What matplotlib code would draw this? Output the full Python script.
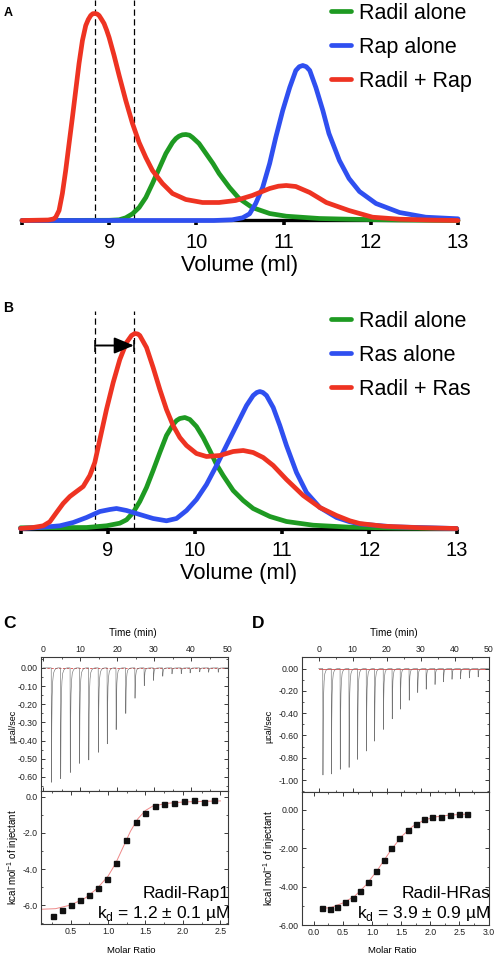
import matplotlib
matplotlib.use('Agg')
import matplotlib.pyplot as plt
from matplotlib.ticker import MultipleLocator

plt.rcParams['font.family'] = ['Liberation Sans', 'DejaVu Sans']
plt.rcParams['axes.unicode_minus'] = False
plt.rcParams['mathtext.fontset'] = 'custom'
plt.rcParams['mathtext.rm'] = 'Liberation Sans'

W, H = 495, 955
fig = plt.figure(figsize=(W / 100, H / 100), dpi=100)


def fx(x):
    return x / W


def fy(y):
    return 1 - y / H


def rect(l, t, r, b):
    return [l / W, 1 - b / H, (r - l) / W, (b - t) / H]


GREEN = '#1e9a22'
BLUE = '#2f4ff0'
RED = '#ee3322'

# ---------------- Panel A data (absorbance, a.u.) ----------------
a_green_x = [8.0, 9.0, 9.114, 9.19, 9.267, 9.343, 9.42, 9.496, 9.573, 9.65, 9.726, 9.765, 9.80,
             9.84, 9.879, 9.92, 9.956, 10.03, 10.11, 10.19, 10.26, 10.38, 10.49, 10.64, 10.84,
             11.03, 11.41, 11.75, 12.3, 13.0]
a_green_y = [0, 0.2, 0.7, 2.7, 6.7, 13, 23, 37, 52, 67, 78, 82, 84.3, 85.7, 86, 85.3, 83, 77,
             67, 57, 47, 33, 22, 13, 7, 4.3, 2, 1.3, 0.5, 0]
a_blue_x = [8.0, 10.2, 10.41, 10.53, 10.61, 10.68, 10.76, 10.84, 10.91, 10.99, 11.07, 11.14,
            11.18, 11.22, 11.26, 11.30, 11.37, 11.45, 11.52, 11.64, 11.75, 11.87, 12.06, 12.33,
            12.63, 13.0]
a_blue_y = [0, 0, 0.7, 2.7, 6.7, 17, 33, 57, 83, 110, 133, 150, 153.8, 155, 153.8, 150, 133,
            110, 87, 60, 42, 29, 17, 8, 3.3, 1.7]
a_red_x = [8.0, 8.30, 8.36, 8.387, 8.425, 8.463, 8.501, 8.54, 8.578, 8.616, 8.654, 8.693,
           8.731, 8.76, 8.788, 8.812, 8.838, 8.862, 8.884, 8.91, 8.941, 8.97, 8.999, 9.056,
           9.114, 9.19, 9.267, 9.343, 9.42, 9.496, 9.611, 9.726, 9.879, 10.07, 10.26, 10.45,
           10.64, 10.84, 10.94, 11.03, 11.14, 11.30, 11.49, 11.75, 12.02, 12.33, 12.7, 13.0]
a_red_y = [0, 0.5, 1.5, 3.3, 10, 27, 50, 77, 103, 130, 157, 180, 195, 201, 205, 206.8, 207,
           206.5, 205, 201.5, 197, 190.5, 183, 165, 145, 120, 97, 78, 63, 50, 37, 27, 21, 18,
           18, 20, 25, 32, 34.3, 35, 34, 28, 18, 10, 3.3, 1.3, 0.4, 0]
a_dashes = [8.835, 9.28]
a_labels = ['Radil alone', 'Rap alone', 'Radil + Rap']

# ---------------- Panel B data ----------------
b_green_x = [8.0, 8.757, 8.986, 9.139, 9.216, 9.292, 9.368, 9.445, 9.521, 9.598, 9.674, 9.75,
             9.79, 9.827, 9.885, 9.942, 10.018, 10.095, 10.171, 10.248, 10.324, 10.439, 10.554,
             10.668, 10.86, 11.05, 11.356, 11.777, 12.3, 13.0]
b_green_y = [0.7, 1, 2.7, 5.3, 8.7, 16, 27, 41, 58, 76, 93, 104, 108, 110, 111, 109, 102, 91,
             78, 64, 53, 38, 28, 20, 12, 7, 3.3, 1.3, 0.5, 0]
b_blue_x = [8.0, 8.222, 8.451, 8.604, 8.757, 8.91, 9.024, 9.101, 9.216, 9.368, 9.521, 9.674,
            9.789, 9.904, 10.018, 10.133, 10.248, 10.362, 10.477, 10.592, 10.668, 10.71, 10.745,
            10.78, 10.821, 10.898, 10.974, 11.05, 11.165, 11.28, 11.433, 11.624, 11.777, 11.89,
            12.27, 13.0]
b_blue_y = [0, 1, 2.7, 6, 11, 17, 19, 20, 18, 14, 10, 7.7, 10, 18, 29, 44, 63, 83, 103, 123,
            133, 136, 137, 136, 133, 121, 103, 83, 56, 36, 21, 11, 6.7, 4.5, 1.7, 0]
b_red_x = [8.0, 8.145, 8.26, 8.336, 8.413, 8.489, 8.566, 8.642, 8.719, 8.795, 8.852, 8.91,
           8.986, 9.063, 9.139, 9.216, 9.273, 9.311, 9.345, 9.368, 9.445, 9.521, 9.598, 9.674,
           9.75, 9.827, 9.904, 10.018, 10.133, 10.286, 10.439, 10.554, 10.668, 10.783, 10.898,
           11.05, 11.242, 11.433, 11.624, 11.777, 11.89, 12.16, 12.6, 13.0]
b_red_y = [0, 1, 2.7, 6.7, 16, 25, 32, 37, 42, 53, 66, 89, 119, 146, 169, 186, 193, 195, 194.5,
           193, 181, 161, 139, 119, 103, 91, 83, 75, 72, 73, 77, 78, 76, 71, 63, 49, 33, 21, 13,
           7.7, 5, 2.3, 0.7, 0]
b_dashes = [8.86, 9.30]
b_arrow_y = 183
b_labels = ['Radil alone', 'Ras alone', 'Radil + Ras']

sec_xticks = [8, 9, 10, 11, 12, 13]
sec_xticklabels = ['', '9', '10', '11', '12', '13']

# ---------------- Panel C data (ITC Radil-Rap1) ----------------
c_inj_t = [2.2, 4.7, 7.3, 9.8, 12.3, 14.9, 17.3, 19.7, 22.3, 24.8, 27.3, 29.8, 32.3, 34.8,
           37.3, 39.7, 42.3, 44.7, 47.3]
c_inj_depth = [0.63, 0.61, 0.576, 0.526, 0.507, 0.465, 0.418, 0.34, 0.251, 0.167, 0.098, 0.069,
               0.046, 0.033, 0.032, 0.028, 0.022, 0.024, 0.024]
c_ratio = [0.27, 0.39, 0.51, 0.62, 0.75, 0.87, 0.99, 1.11, 1.24, 1.37, 1.50, 1.62, 1.75, 1.88,
           2.01, 2.15, 2.28, 2.42]
c_heat = [-6.59, -6.27, -5.98, -5.72, -5.46, -5.07, -4.56, -3.69, -2.40, -1.37, -0.87, -0.48,
          -0.39, -0.31, -0.24, -0.18, -0.26, -0.18]
c_fit_x = [0.12, 0.3, 0.5, 0.7, 0.85, 1.0, 1.1, 1.2, 1.3, 1.4, 1.5, 1.6, 1.8, 2.0, 2.3, 2.5]
c_fit_y = [-6.23, -6.2, -6.0, -5.6, -5.1, -4.4, -3.7, -2.8, -1.9, -1.2, -0.75, -0.5, -0.35,
           -0.28, -0.24, -0.22]
c_top_yticks = [0.0, -0.1, -0.2, -0.3, -0.4, -0.5, -0.6]
c_top_yticklabels = ['0.00', '-0.10', '-0.20', '-0.30', '-0.40', '-0.50', '-0.60']
c_bot_yticks = [0.0, -2.0, -4.0, -6.0]
c_bot_yticklabels = ['0.0', '-2.0', '-4.0', '-6.0']
c_bot_xticks = [0.5, 1.0, 1.5, 2.0, 2.5]
c_bot_xticklabels = ['0.5', '1.0', '1.5', '2.0', '2.5']
c_name = 'Radil-Rap1'
c_kd = r'k$_\mathregular{d}$ = 1.2 ± 0.1 µM'

# ---------------- Panel D data (ITC Radil-HRas) ----------------
d_inj_t = [1.2, 3.7, 6.3, 8.9, 11.4, 14.0, 16.4, 19.0, 21.6, 24.0, 26.6, 29.1, 31.6, 34.2, 36.7,
           39.2, 41.7, 44.3, 46.9]
d_inj_depth = [0.955, 0.946, 0.904, 0.887, 0.815, 0.740, 0.651, 0.546, 0.451, 0.364, 0.284,
               0.215, 0.185, 0.143, 0.119, 0.096, 0.093, 0.084, 0.075]
d_ratio = [0.14, 0.28, 0.40, 0.53, 0.67, 0.79, 0.93, 1.07, 1.20, 1.33, 1.47, 1.62, 1.76, 1.89,
           2.03, 2.19, 2.33, 2.49, 2.63]
d_heat = [-5.13, -5.18, -5.04, -4.80, -4.57, -4.24, -3.77, -3.20, -2.61, -1.98, -1.44, -1.04,
          -0.73, -0.49, -0.38, -0.37, -0.24, -0.21, -0.21]
d_fit_x = [0.12, 0.3, 0.5, 0.7, 0.9, 1.1, 1.3, 1.5, 1.7, 1.9, 2.1, 2.3, 2.5, 2.65]
d_fit_y = [-5.15, -5.08, -4.85, -4.5, -3.9, -3.1, -2.2, -1.4, -0.85, -0.52, -0.36, -0.28,
           -0.24, -0.22]
d_top_yticks = [0.0, -0.2, -0.4, -0.6, -0.8, -1.0]
d_top_yticklabels = ['0.00', '-0.20', '-0.40', '-0.60', '-0.80', '-1.00']
d_bot_yticks = [0.0, -2.0, -4.0, -6.0]
d_bot_yticklabels = ['0.00', '-2.00', '-4.00', '-6.00']
d_bot_xticks = [0.0, 0.5, 1.0, 1.5, 2.0, 2.5, 3.0]
d_bot_xticklabels = ['0.0', '0.5', '1.0', '1.5', '2.0', '2.5', '3.0']
d_name = 'Radil-HRas'
d_kd = r'k$_\mathregular{d}$ = 3.9 ± 0.9 µM'

time_ticks = [0, 10, 20, 30, 40, 50]
time_ticklabels = ['0', '10', '20', '30', '40', '50']
# shape of one injection peak (minutes after injection, fraction of peak depth)
spike_dt = [-0.05, 0.0, 0.06, 0.15, 0.25, 0.4, 0.6, 0.9, 1.3, 1.8]
spike_frac = [0.0, 0.0, 1.0, 0.5, 0.25, 0.12, 0.05, 0.02, 0.005, 0.0]


# ---------------- SEC panels ----------------
def sec_panel(r, ymax, xs, ys, labels, dashes, legend_anchor, panel_letter, letter_xy, letter_size):
    ax = fig.add_axes(r)
    ax.set_xlim(8, 13)
    ax.set_ylim(0, ymax)
    for s in ['top', 'right', 'left']:
        ax.spines[s].set_visible(False)
    ax.spines['bottom'].set_linewidth(2.4)
    ax.spines['bottom'].set_capstyle('round')
    ax.set_yticks([])
    ax.set_xticks(sec_xticks)
    ax.set_xticklabels(sec_xticklabels)
    ax.tick_params(axis='x', length=3.5, width=2.6, labelsize=14.5, pad=5.5)
    for d in dashes:
        ax.axvline(d, color='k', lw=0.9, ls=(0, (5, 2.8)), zorder=1)
    handles = []
    for x, y, c, lab in zip(xs, ys, [GREEN, BLUE, RED], labels):
        ln, = ax.plot(x, y, color=c, lw=3.4, solid_joinstyle='round', solid_capstyle='round',
                      clip_on=False, zorder=3, label=lab)
        handles.append(ln)
    leg = ax.legend(handles=handles, loc='upper left', bbox_to_anchor=legend_anchor,
                    bbox_transform=fig.transFigure, frameon=False, fontsize=15.5,
                    handlelength=0.95, handletextpad=0.37, labelspacing=0.6,
                    borderpad=0, borderaxespad=0)
    for lh in leg.get_lines():
        lh.set_linewidth(3.4)
        lh.set_solid_capstyle('round')
    fig.text(fx(letter_xy[0]), fy(letter_xy[1]), panel_letter, fontsize=letter_size,
             fontweight='bold', ha='left', va='center')
    return ax


axA = sec_panel(rect(22, 0, 458, 220.5), 220.5, [a_green_x, a_blue_x, a_red_x],
                [a_green_y, a_blue_y, a_red_y], a_labels, a_dashes,
                (fx(331), fy(3)), 'A', (4, 13), 9)
fig.text(fx(240), fy(265), 'Volume (ml)', fontsize=15.8, ha='center', va='center')

axB = sec_panel(rect(20.5, 311, 456.5, 528.5), 217.5, [b_green_x, b_blue_x, b_red_x],
                [b_green_y, b_blue_y, b_red_y], b_labels, b_dashes,
                (fx(331), fy(311)), 'B', (3, 308.5), 10)
fig.text(fx(239), fy(574), 'Volume (ml)', fontsize=15.8, ha='center', va='center')
axB.annotate('', xy=(b_dashes[1], b_arrow_y), xytext=(b_dashes[0], b_arrow_y),
             arrowprops=dict(arrowstyle='-|>,head_length=0.6,head_width=0.25', color='k',
                             lw=1.4, mutation_scale=20, shrinkA=0, shrinkB=0), zorder=4)
axB.plot(b_dashes, [b_arrow_y, b_arrow_y], ls='none', marker='|', ms=8, mew=1.1, color='k',
         zorder=4)


# ---------------- ITC panels ----------------
FRAME = '#3a3a3a'


def itc_axes(r):
    ax = fig.add_axes(r)
    for s in ax.spines.values():
        s.set_linewidth(0.8)
        s.set_color(FRAME)
    ax.tick_params(which='both', direction='in', top=True, right=True, colors=FRAME,
                   labelcolor='#222222', labelsize=6.3, pad=2)
    ax.tick_params(which='major', length=3, width=0.7)
    ax.tick_params(which='minor', length=1.7, width=0.6)
    return ax


def raw_trace(inj_t, inj_depth, t0, t1):
    t = [t0]
    y = [0.0]
    for ti, d in zip(inj_t, inj_depth):
        for off, fr in zip(spike_dt, spike_frac):
            t.append(ti + off)
            y.append(-d * fr)
    t.append(t1)
    y.append(0.0)
    return t, y


def itc_panel(left, right, top, mid, bottom, xlim_t, ylim_top, top_yticks, top_ylabels,
              top_minor, inj_t, inj_depth, base_ls,
              xlim_r, ylim_bot, bot_yticks, bot_ylabels, bot_minor, bot_xticks, bot_xlabels,
              ratio, heat, fit_x, fit_y, name, kd, letter, letter_x, ylab_x):
    axt = itc_axes(rect(left, top, right, mid))
    axt.set_xlim(*xlim_t)
    axt.set_ylim(*ylim_top)
    axt.set_xticks(time_ticks)
    axt.set_xticklabels(time_ticklabels)
    axt.xaxis.set_minor_locator(MultipleLocator(5))
    axt.set_yticks(top_yticks)
    axt.set_yticklabels(top_ylabels)
    axt.yaxis.set_minor_locator(MultipleLocator(top_minor))
    axt.tick_params(labeltop=True, labelbottom=False)
    t, y = raw_trace(inj_t, inj_depth, 0.0, 50.0)
    axt.plot([0, 50], [0, 0], color='#e06060', lw=0.7, ls=base_ls, zorder=1)
    axt.plot(t, y, color='#747474', lw=0.45, zorder=2)

    axb = itc_axes(rect(left, mid, right, bottom))
    axb.set_xlim(*xlim_r)
    axb.set_ylim(*ylim_bot)
    axb.set_xticks(bot_xticks)
    axb.set_xticklabels(bot_xlabels)
    axb.xaxis.set_minor_locator(MultipleLocator(0.25))
    axb.set_yticks(bot_yticks)
    axb.set_yticklabels(bot_ylabels)
    axb.yaxis.set_minor_locator(MultipleLocator(bot_minor))
    axb.plot(fit_x, fit_y, color='#ee8888', lw=0.7, zorder=2)
    axb.plot(ratio, heat, ls='none', marker='s', ms=3.6, color='#111111', zorder=3)

    cx = (left + right) / 2
    fig.text(fx(cx - 1), fy(633), 'Time (min)', fontsize=7.2, ha='center', va='center')
    fig.text(fx(cx - 3), fy(950), 'Molar Ratio', fontsize=6.8, ha='center', va='center')
    fig.text(fx(ylab_x), fy((top + mid) / 2 + 2), 'µcal/sec', fontsize=6.5, rotation=90,
             ha='center', va='center')
    fig.text(fx(ylab_x), fy((mid + bottom) / 2), 'kcal mol$^{-1}$ of injectant',
             fontsize=7.0, rotation=90, ha='center', va='center')
    fig.text(fx(right + 2), fy(893), name, fontsize=12.5, ha='right', va='center')
    fig.text(fx(right + 2), fy(913), kd, fontsize=12.5, ha='right', va='center')
    fig.text(fx(letter_x), fy(624), letter, fontsize=12.5, fontweight='bold', ha='left',
             va='center')
    return axt, axb


itc_panel(40.5, 228, 657, 791, 924, (-0.7, 50), (-0.678, 0.06), c_top_yticks,
          c_top_yticklabels, 0.05, c_inj_t, c_inj_depth, (0, (2.5, 1.5)),
          (0.1, 2.6), (-7.05, 0.33), c_bot_yticks, c_bot_yticklabels, 1.0, c_bot_xticks,
          c_bot_xticklabels, c_ratio, c_heat, c_fit_x, c_fit_y, c_name, c_kd, 'C', 3, 13)

itc_panel(301.7, 488.5, 657, 791.7, 925, (-5.0, 50), (-1.105, 0.104), d_top_yticks,
          d_top_yticklabels, 0.1, d_inj_t, d_inj_depth, '-',
          (-0.21, 3.0), (-6.0, 0.95), d_bot_yticks, d_bot_yticklabels, 1.0, d_bot_xticks,
          d_bot_xticklabels, d_ratio, d_heat, d_fit_x, d_fit_y, d_name, d_kd, 'D', 252, 269)

fig.savefig('out.png', dpi=100)
